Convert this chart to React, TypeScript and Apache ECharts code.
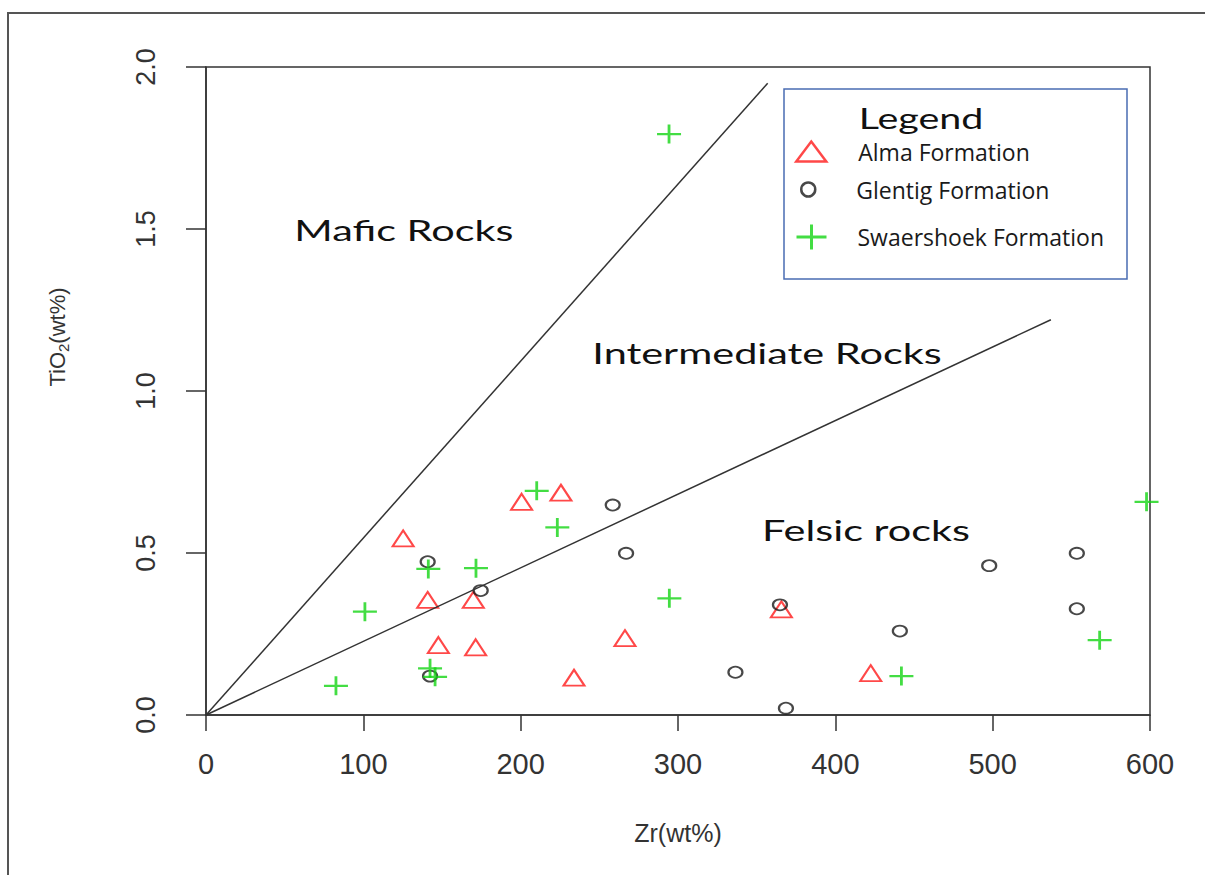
import React, { useEffect, useRef } from "react";
import * as echarts from "echarts";

const xTicks = [0, 100, 200, 300, 400, 500, 600];
const yTicks = [0, 0.5, 1.0, 1.5, 2.0];

const almaFormation: [number, number][] = [
  [125.3, 0.545], [140.9, 0.355], [147.7, 0.216], [169.9, 0.355], [171.4, 0.209],
  [200.6, 0.658], [225.6, 0.686], [233.9, 0.115], [266.3, 0.237], [365.7, 0.326],
  [422.5, 0.129],
];
const glentigFormation: [number, number][] = [
  [140.9, 0.473], [142.4, 0.12], [174.6, 0.384], [258.5, 0.648], [267.0, 0.499],
  [336.5, 0.132], [364.8, 0.34], [368.6, 0.021], [441.0, 0.259], [497.8, 0.461],
  [553.5, 0.499], [553.5, 0.328],
];
const swaershoekFormation: [number, number][] = [
  [82.6, 0.09], [101.0, 0.319], [141.3, 0.451], [142.4, 0.144], [145.6, 0.118],
  [171.6, 0.453], [210.2, 0.692], [223.3, 0.579], [294.3, 1.793], [294.5, 0.36],
  [442.0, 0.12], [568.0, 0.231], [597.8, 0.658],
];

const maficBoundary: [number, number][] = [[0, 0], [357, 1.95]];
const felsicBoundary: [number, number][] = [[0, 0], [537, 1.22]];

const regionNames = ["Mafic Rocks", "Intermediate Rocks", "Felsic rocks"];
const regionX = [125.8, 356.6, 419.5];
const regionY = [1.497, 1.117, 0.571];

const seriesNames = ["Alma Formation", "Glentig Formation", "Swaershoek Formation"];

const PLUS = "path://M10,0 L10,20 M0,10 L20,10";
const RED = "#ff1a1a";
const BLACK = "#1a1a1a";
const GREEN = "#14d414";
const AXIS = "#333333";

export default function App() {
  const ref = useRef<HTMLDivElement>(null);
  useEffect(() => {
    document.body.style.margin = "0";
    const chart = echarts.init(ref.current!, null, { renderer: "svg" });
    const axisFont = "Liberation Sans";
    const legendText = {
      fontFamily: "Open Sans",
      fontSize: 23,
      color: "#1a1a1a",
    };
    const option: any = {
      animation: false,
      backgroundColor: "#ffffff",
      grid: {
        left: 206,
        top: 67,
        width: 944,
        height: 648,
        show: true,
        borderColor: AXIS,
        borderWidth: 1.5,
        backgroundColor: "transparent",
      },
      xAxis: {
        type: "value",
        min: xTicks[0],
        max: xTicks[xTicks.length - 1],
        interval: 100,
        name: "Zr(wt%)",
        nameLocation: "middle",
        nameGap: 105,
        nameTextStyle: { fontFamily: axisFont, fontSize: 25, color: AXIS },
        axisLine: { show: true, lineStyle: { color: AXIS, width: 1.5 } },
        axisTick: { show: true, length: 16, lineStyle: { color: AXIS, width: 1.5 } },
        axisLabel: { fontFamily: axisFont, fontSize: 29, color: AXIS, margin: 34 },
        splitLine: { show: false },
      },
      yAxis: {
        type: "value",
        min: yTicks[0],
        max: yTicks[yTicks.length - 1],
        interval: 0.5,
        axisLine: { show: true, lineStyle: { color: AXIS, width: 1.5 } },
        axisTick: { show: true, length: 20, lineStyle: { color: AXIS, width: 1.5 } },
        axisLabel: {
          fontFamily: axisFont,
          fontSize: 27,
          color: AXIS,
          rotate: 90,
          margin: 47,
          formatter: (v: number) => v.toFixed(1),
        },
        splitLine: { show: false },
      },
      legend: [
        {
          data: [{ name: seriesNames[0], icon: "triangle" }],
          left: 795,
          top: 140,
          padding: 0,
          itemWidth: 30,
          itemHeight: 20,
          symbolKeepAspect: false,
          itemStyle: { color: "transparent", borderColor: RED, borderWidth: 2.5 },
          textStyle: { ...legendText, padding: [0, 0, 0, 27] },
        },
        {
          data: [{ name: seriesNames[1], icon: "circle" }],
          left: 800,
          top: 178,
          padding: 0,
          itemWidth: 20,
          itemHeight: 14,
          symbolKeepAspect: false,
          itemStyle: { color: "transparent", borderColor: BLACK, borderWidth: 2.5 },
          textStyle: { ...legendText, padding: [0, 0, 0, 33] },
        },
        {
          data: [{ name: seriesNames[2], icon: PLUS }],
          left: 795,
          top: 223,
          padding: 0,
          itemWidth: 30,
          itemHeight: 25,
          symbolKeepAspect: false,
          itemStyle: { color: "transparent", borderColor: GREEN, borderWidth: 3 },
          textStyle: { ...legendText, padding: [0, 0, 0, 26] },
        },
      ],
      series: [
        {
          name: "Mafic boundary",
          type: "line",
          data: maficBoundary,
          symbol: "none",
          silent: true,
          lineStyle: { color: AXIS, width: 1.5 },
        },
        {
          name: "Felsic boundary",
          type: "line",
          data: felsicBoundary,
          symbol: "none",
          silent: true,
          lineStyle: { color: AXIS, width: 1.5 },
        },
        {
          name: seriesNames[0],
          type: "scatter",
          data: almaFormation,
          symbol: "triangle",
          symbolSize: [21, 16],
          itemStyle: { color: "transparent", borderColor: RED, borderWidth: 2 },
        },
        {
          name: seriesNames[1],
          type: "scatter",
          data: glentigFormation,
          symbol: "circle",
          symbolSize: [14, 11],
          itemStyle: { color: "transparent", borderColor: BLACK, borderWidth: 2 },
        },
        {
          name: seriesNames[2],
          type: "scatter",
          data: swaershoekFormation,
          symbol: PLUS,
          symbolSize: [24, 19],
          itemStyle: { color: "transparent", borderColor: GREEN, borderWidth: 2.5 },
        },
      ],
    };
    chart.setOption(option);

    const regionGraphics = regionNames.map((name, i) => {
      const p = chart.convertToPixel({ gridIndex: 0 }, [regionX[i], regionY[i]]) as number[];
      return {
        type: "text",
        x: p[0],
        y: p[1],
        scaleX: 1.48,
        style: {
          text: name,
          fontFamily: "Lato",
          fontSize: 28,
          fill: "#111111",
          align: "center",
          verticalAlign: "middle",
        },
      };
    });

    chart.setOption({
      graphic: [
        {
          type: "polyline",
          shape: { points: [[8, 875], [8, 13], [1205, 13]] },
          style: { stroke: "#555555", lineWidth: 2, fill: "none" },
          silent: true,
        },
        {
          type: "rect",
          shape: { x: 784, y: 89, width: 343, height: 190 },
          style: { stroke: "#4a6cb3", lineWidth: 1.5, fill: "none" },
          silent: true,
        },
        {
          type: "text",
          x: 921,
          y: 118,
          scaleX: 1.36,
          style: {
            text: "Legend",
            fontFamily: "Lato",
            fontSize: 29,
            fill: "#111111",
            align: "center",
            verticalAlign: "middle",
          },
        },
        {
          type: "text",
          x: 57,
          y: 337,
          rotation: Math.PI / 2,
          style: {
            text: "{a|TiO}{s|2}{a|(wt%)}",
            align: "center",
            verticalAlign: "middle",
            rich: {
              a: { fontFamily: axisFont, fontSize: 22, fill: AXIS },
              s: { fontFamily: axisFont, fontSize: 15, fill: AXIS, padding: [12, 0, 0, 0] },
            },
          },
        },
        ...regionGraphics,
      ],
    });
    return () => chart.dispose();
  }, []);
  return <div ref={ref} style={{ width: 1205, height: 875 }} />;
}
